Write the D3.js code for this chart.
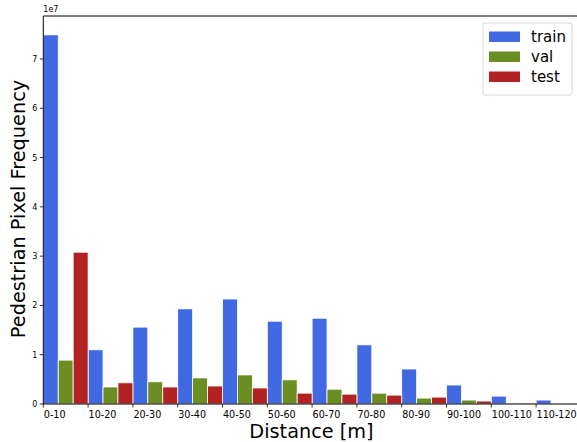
<!DOCTYPE html>
<html>
<head>
<meta charset="utf-8">
<script src="https://cdn.jsdelivr.net/npm/d3@7"></script>
<style>
  body { margin: 0; background: #fff; }
  text { font-family: "DejaVu Sans", sans-serif; fill: #000; }
</style>
</head>
<body>
<div id="chart"></div>
<script>
// data, in units of 1e7 pixels
var categories = ["0-10","10-20","20-30","30-40","40-50","50-60","60-70","70-80","80-90","90-100","100-110","110-120"];
var train = [7.49, 1.10, 1.56, 1.93, 2.13, 1.68, 1.74, 1.20, 0.71, 0.385, 0.16, 0.08];
var val   = [0.89, 0.345, 0.45, 0.53, 0.59, 0.49, 0.30, 0.22, 0.12, 0.08, 0.02, 0.004];
var test  = [3.08, 0.43, 0.345, 0.365, 0.325, 0.22, 0.20, 0.18, 0.14, 0.06, 0.02, 0.004];
var yTicks = [0, 1, 2, 3, 4, 5, 6, 7];
var seriesNames = ["train", "val", "test"];
var colors = ["#4169E1", "#6B8E23", "#B22222"];

var width = 577, height = 442;
var margin = {top: 16, left: 43.3, bottom: 38};
var svg = d3.select("#chart").append("svg")
  .attr("width", width)
  .attr("height", height);

var step = 44.8;
var x = d3.scaleLinear().domain([0, 1]).range([margin.left, margin.left + step]);
var y = d3.scaleLinear().domain([0, 7]).range([height - margin.bottom, height - margin.bottom - 345]);
var y0 = y(0);

var series = [train, val, test];
var w = 1 / 3;

series.forEach(function(vals, s) {
  svg.append("g").selectAll("rect")
    .data(vals).enter().append("rect")
    .attr("x", function(d, i) { return x(i + s * w); })
    .attr("width", x(w) - x(0))
    .attr("y", function(d) { return y(d); })
    .attr("height", function(d) { return y0 - y(d); })
    .attr("fill", colors[s])
    .attr("stroke", "#fff")
    .attr("stroke-width", 0.8);
});

// spines
svg.append("line").attr("x1", margin.left).attr("x2", width).attr("y1", margin.top).attr("y2", margin.top)
  .attr("stroke", "#000").attr("stroke-width", 1);
svg.append("line").attr("x1", margin.left).attr("x2", width).attr("y1", y0).attr("y2", y0)
  .attr("stroke", "#000").attr("stroke-width", 1);
svg.append("line").attr("x1", margin.left).attr("x2", margin.left).attr("y1", margin.top).attr("y2", y0)
  .attr("stroke", "#000").attr("stroke-width", 1);

// y ticks
var yt = svg.append("g");
yTicks.forEach(function(t) {
  yt.append("line").attr("x1", margin.left - 3.5).attr("x2", margin.left)
    .attr("y1", y(t)).attr("y2", y(t)).attr("stroke", "#000").attr("stroke-width", 0.8);
  yt.append("text").attr("x", margin.left - 6).attr("y", y(t) + 3)
    .attr("text-anchor", "end").attr("font-size", 8).text(t);
});
svg.append("text").attr("x", margin.left).attr("y", 12).attr("font-size", 8).text("1e7");

// x ticks, labels left-aligned at tick
var xt = svg.append("g");
categories.forEach(function(c, i) {
  xt.append("line").attr("x1", x(i)).attr("x2", x(i))
    .attr("y1", y0).attr("y2", y0 + 3.5).attr("stroke", "#000").attr("stroke-width", 0.8);
  xt.append("text").attr("x", x(i) + 0.5).attr("y", y0 + 14)
    .attr("font-size", 9.6).text(c);
});

// axis titles
svg.append("text").attr("x", 311.5).attr("y", 438)
  .attr("text-anchor", "middle").attr("font-size", 19.3).text("Distance [m]");
svg.append("text")
  .attr("transform", "translate(25," + 209 + ") rotate(-90)")
  .attr("text-anchor", "middle").attr("font-size", 19.3).text("Pedestrian Pixel Frequency");

// legend
var lg = svg.append("g").attr("transform", "translate(483,23)");
lg.append("rect").attr("width", 89).attr("height", 72).attr("rx", 2)
  .attr("fill", "#fff").attr("fill-opacity", 0.8)
  .attr("stroke", "#ccc").attr("stroke-width", 0.8);
seriesNames.forEach(function(n, i) {
  lg.append("rect").attr("x", 6).attr("y", 8.5 + i * 20).attr("width", 31).attr("height", 10.5)
    .attr("fill", colors[i]);
  lg.append("text").attr("x", 48).attr("y", 19 + i * 20).attr("font-size", 15).text(n);
});
</script>
</body>
</html>
